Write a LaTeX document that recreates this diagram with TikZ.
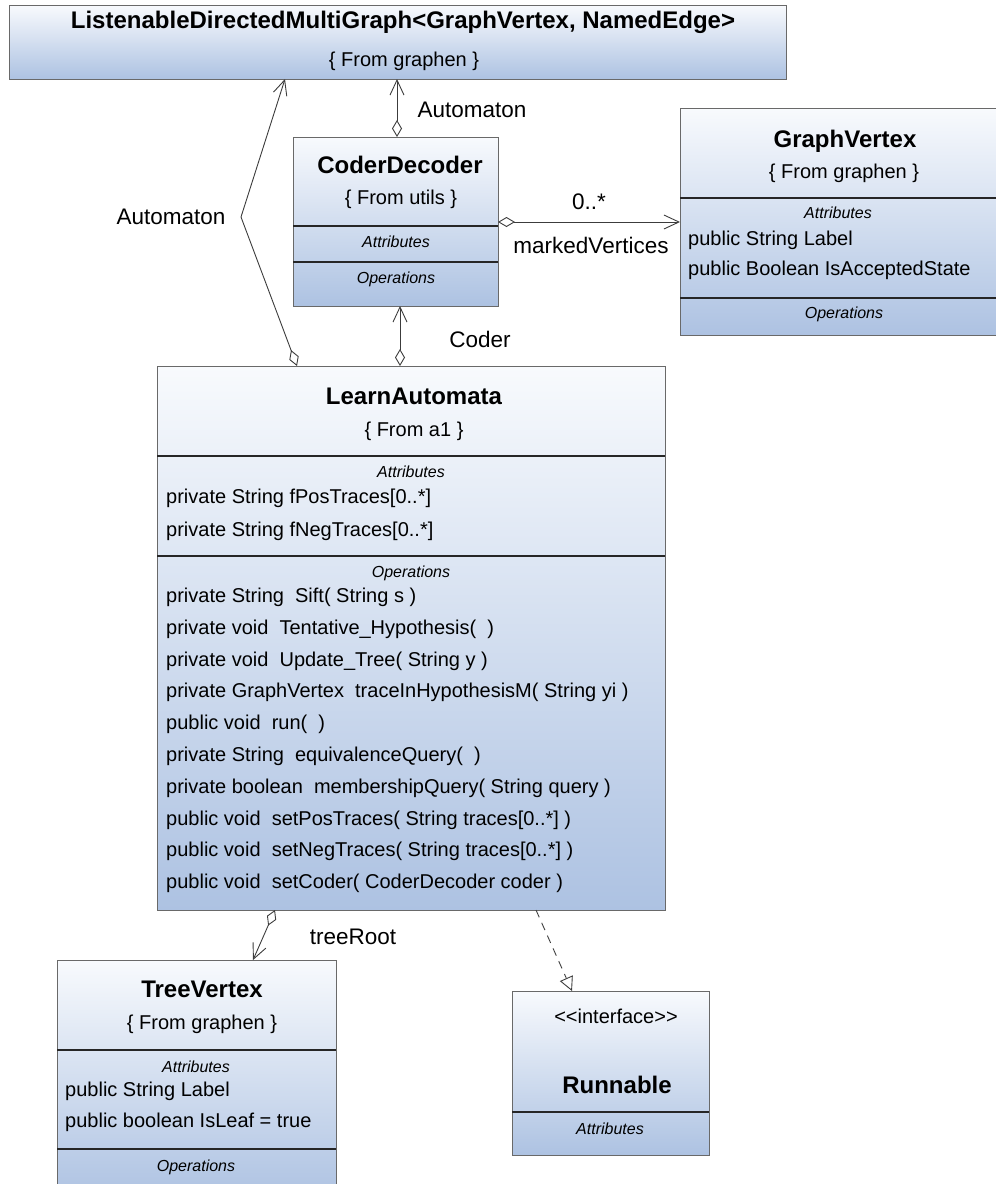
\documentclass[tikz,border=0pt]{standalone}
\usepackage{fontspec}
\setmainfont{Liberation Sans}
\usepackage{tikz}
\usetikzlibrary{arrows.meta}
\usetikzlibrary{calc}
\usetikzlibrary{positioning}

\definecolor{boxtop}{RGB}{248,250,253}
\definecolor{boxbot}{RGB}{173,194,226}
\definecolor{boxline}{RGB}{105,105,105}
\definecolor{edgegray}{RGB}{60,60,60}

\tikzset{
	classbox/.style={draw=boxline,line width=1pt,top color=boxtop,bottom color=boxbot,anchor=north west,inner sep=0pt,outer sep=0pt},
	divider/.style={draw=black!85,line width=1.5pt},
	classname/.style={anchor=base,inner sep=0pt,font=\fontsize{24}{28}\selectfont\bfseries},
	stereo/.style={anchor=base,inner sep=0pt,font=\fontsize{20}{24}\selectfont},
	section/.style={anchor=base,inner sep=0pt,font=\fontsize{16}{19}\selectfont\itshape},
	member/.style={anchor=base west,inner sep=0pt,font=\fontsize{20}{24}\selectfont},
	role/.style={anchor=base,inner sep=0pt,font=\fontsize{22.5}{27}\selectfont},
	assoc/.style={draw=edgegray,line width=0.9pt,{Diamond[open,length=17pt,width=10pt]}-{Straight Barb[length=15pt,width=14pt]}},
	realize/.style={draw=edgegray,line width=0.9pt,dash pattern=on 8pt off 6pt,-{Triangle[open,length=14pt,width=14pt]}}
}

\begin{document}
\begin{tikzpicture}[x=1pt,y=-1pt]
			\useasboundingbox (0,0) rectangle (996,1184);
			\clip (0,0) rectangle (996,1184);
			%class boxes
			\node[classbox,minimum width=777pt,minimum height=74pt] (multigraph) at (9,5) {};
			\node[classbox,minimum width=205pt,minimum height=169pt] (coder) at (293,137) {};
			\node[classbox,minimum width=330pt,minimum height=227pt] (gvertex) at (680,108) {};
			\node[classbox,minimum width=508pt,minimum height=544pt] (learn) at (157,366) {};
			\node[classbox,minimum width=279pt,minimum height=240pt] (tvertex) at (57,960) {};
			\node[classbox,minimum width=197pt,minimum height=164pt] (runnable) at (512,991) {};
			%ListenableDirectedMultiGraph
			\node[classname] (multigraph-name) at (403,28) {ListenableDirectedMultiGraph<GraphVertex, NamedEdge>};
			\node[stereo] (multigraph-from) at (404,66) {\{ From graphen \}};
			%CoderDecoder
			\node[classname] (coder-name) at (400,173) {CoderDecoder};
			\node[stereo] (coder-from) at (401,204) {\{ From utils \}};
			\draw[divider] (coder.west |- 0,226) -- (coder.east |- 0,226);
			\node[section] (coder-attr) at (396,247) {Attributes};
			\draw[divider] (coder.west |- 0,262) -- (coder.east |- 0,262);
			\node[section] (coder-ops) at (396,283) {Operations};
			%GraphVertex
			\node[classname] (gvertex-name) at (845,147) {GraphVertex};
			\node[stereo] (gvertex-from) at (844,178) {\{ From graphen \}};
			\draw[divider] (gvertex.west |- 0,198) -- (gvertex.east |- 0,198);
			\node[section] (gvertex-attr) at (838,218) {Attributes};
			\node[member] (gvertex-a1) at (688,245) {public String Label};
			\node[member] (gvertex-a2) at (688,275) {public Boolean IsAcceptedState};
			\draw[divider] (gvertex.west |- 0,298) -- (gvertex.east |- 0,298);
			\node[section] (gvertex-ops) at (844,318) {Operations};
			%LearnAutomata
			\node[classname] (learn-name) at (414,404) {LearnAutomata};
			\node[stereo] (learn-from) at (414,436) {\{ From a1 \}};
			\draw[divider] (learn.west |- 0,456) -- (learn.east |- 0,456);
			\node[section] (learn-attr) at (411,477) {Attributes};
			\node[member] (learn-a1) at (166,503) {private String fPosTraces[0..*]};
			\node[member] (learn-a2) at (166,536) {private String fNegTraces[0..*]};
			\draw[divider] (learn.west |- 0,556) -- (learn.east |- 0,556);
			\node[section] (learn-ops) at (411,577) {Operations};
			\node[member] (learn-o1) at (166,602) {private String\ \ Sift( String s )};
			\node[member] (learn-o2) at (166,634) {private void\ \ Tentative\_Hypothesis(\ \ )};
			\node[member] (learn-o3) at (166,666) {private void\ \ Update\_Tree( String y )};
			\node[member] (learn-o4) at (166,697) {private GraphVertex\ \ traceInHypothesisM( String yi )};
			\node[member] (learn-o5) at (166,729) {public void\ \ run(\ \ )};
			\node[member] (learn-o6) at (166,761) {private String\ \ equivalenceQuery(\ \ )};
			\node[member] (learn-o7) at (166,793) {private boolean\ \ membershipQuery( String query )};
			\node[member] (learn-o8) at (166,825) {public void\ \ setPosTraces( String traces[0..*] )};
			\node[member] (learn-o9) at (166,856) {public void\ \ setNegTraces( String traces[0..*] )};
			\node[member] (learn-o10) at (166,888) {public void\ \ setCoder( CoderDecoder coder )};
			%TreeVertex
			\node[classname] (tvertex-name) at (202,997) {TreeVertex};
			\node[stereo] (tvertex-from) at (202,1029) {\{ From graphen \}};
			\draw[divider] (tvertex.west |- 0,1050) -- (tvertex.east |- 0,1050);
			\node[section] (tvertex-attr) at (196,1072) {Attributes};
			\node[member] (tvertex-a1) at (65,1096) {public String Label};
			\node[member] (tvertex-a2) at (65,1127) {public boolean IsLeaf = true};
			\draw[divider] (tvertex.west |- 0,1149) -- (tvertex.east |- 0,1149);
			\node[section] (tvertex-ops) at (196,1171) {Operations};
			%Runnable
			\node[stereo] (runnable-stereo) at (616,1023) {<{}<interface>{}>};
			\node[classname] (runnable-name) at (617,1093) {Runnable};
			\draw[divider] (runnable.west |- 0,1112) -- (runnable.east |- 0,1112);
			\node[section] (runnable-attr) at (610,1134) {Attributes};
			%associations
			\coordinate (bend) at (241,217);
			\draw[assoc] (learn.north -| 297,0) -- (bend) -- (multigraph.south -| 285,0);
			\draw[assoc] (coder.north -| 397,0) -- (multigraph.south -| 397,0);
			\draw[assoc] (learn.north -| 400,0) -- (coder.south -| 400,0);
			\draw[assoc] (coder.east |- 0,222) -- (gvertex.west |- 0,222);
			\draw[assoc] (learn.south -| 275,0) -- (tvertex.north -| 253,0);
			\draw[realize] (learn.south -| 536,0) -- (runnable.north -| 572,0);
			%role names
			\node[role] (auto-top) at (472,117) {Automaton};
			\node[role] (auto-left) at (171,224) {Automaton};
			\node[role] (coder-role) at (480,347) {Coder};
			\node[role] (marked-mult) at (589,209) {0..*};
			\node[role] (marked-role) at (591,253) {markedVertices};
			\node[role] (tree-role) at (353,944) {treeRoot};
		\end{tikzpicture}
\end{document}
